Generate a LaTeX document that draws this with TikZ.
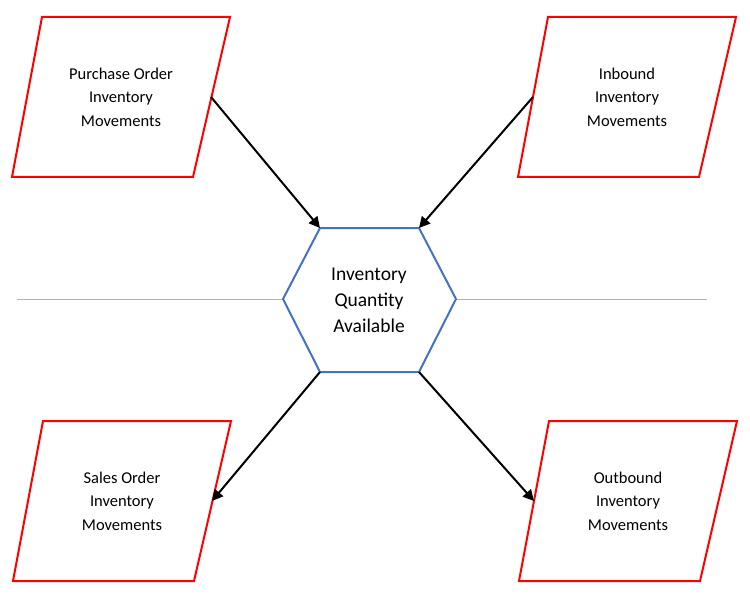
\documentclass[tikz,border=0pt]{standalone}
\usepackage{fontspec}
\setmainfont{Carlito}
\usetikzlibrary{arrows.meta}
\definecolor{hexblue}{RGB}{68,114,196}
\tikzset{
    flow/.style={align=center, font=\fontsize{16.5}{23.5}\selectfont},
    box/.style={draw=red, line width=2pt},
    feed/.style={-{Triangle[length=11pt,width=11pt]}, line width=2pt}
}
\begin{document}
\begin{tikzpicture}[x=1pt,y=-1pt]
    \useasboundingbox (0,0) rectangle (750,599);
    % divider
    \draw[gray!60] (17,299) -- (707,299);
    % centre hexagon
    \coordinate (hw) at (283,299);
    \coordinate (hnw) at (320,228);
    \coordinate (hne) at (419,228);
    \coordinate (he) at (456,299);
    \coordinate (hse) at (419,372);
    \coordinate (hsw) at (320,372);
    \fill[white] (hw) -- (hnw) -- (hne) -- (he) -- (hse) -- (hsw) -- cycle;
    \draw[hexblue, line width=2pt] (hw) -- (hnw) -- (hne) -- (he) -- (hse) -- (hsw) -- cycle;
    \node[align=center, font=\fontsize{19.5}{26}\selectfont] (qty) at (369,300) {Inventory\\Quantity\\Available};
    % movements
    \node[flow] (po) at (121,97) {Purchase Order\\Inventory\\Movements};
    \node[flow] (inb) at (627,97) {Inbound\\Inventory\\Movements};
    \node[flow] (so) at (122,501) {Sales Order\\Inventory\\Movements};
    \node[flow] (outb) at (628,501) {Outbound\\Inventory\\Movements};
    \foreach \n in {po,inb,so,outb} {
        \draw[box] ([shift={(-79,-80)}]\n.center) -- ([shift={(109,-80)}]\n.center)
            -- ([shift={(72,80)}]\n.center) -- ([shift={(-109,80)}]\n.center) -- cycle;
        \coordinate (\n-r) at ([shift={(90,0)}]\n.center);
        \coordinate (\n-l) at ([shift={(-94,0)}]\n.center);
    }
    % arrows
    \draw[feed] (po-r) -- (hnw);
    \draw[feed] (inb-l) -- (hne);
    \draw[feed] (hsw) -- (so-r);
    \draw[feed] (hse) -- (outb-l);
\end{tikzpicture}
\end{document}
